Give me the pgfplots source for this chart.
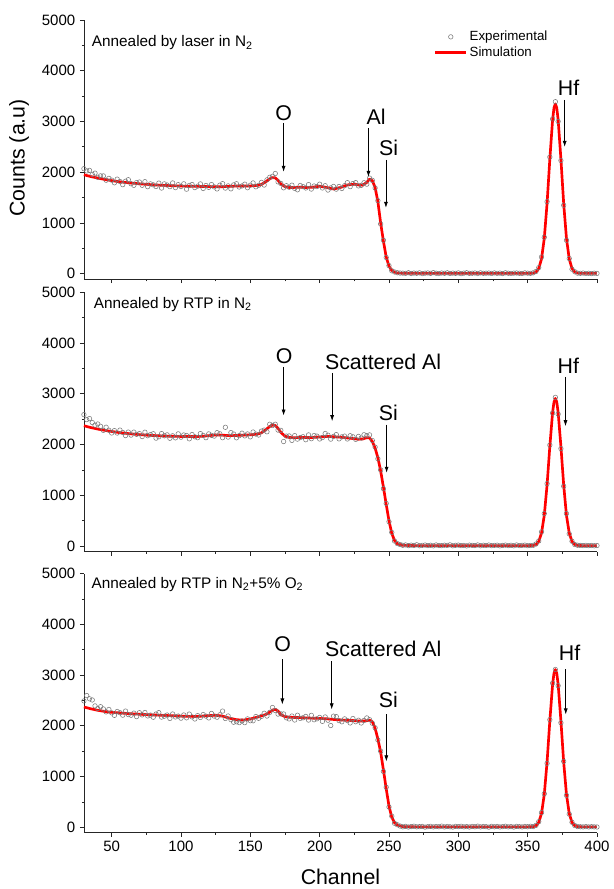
\documentclass[border=0pt]{standalone}
\usepackage{fontspec}
\setmainfont{Liberation Sans}
\usepackage{pgfplots}
\pgfplotsset{compat=1.18}
\usepackage{pgfplotstable}
\usetikzlibrary{arrows.meta}

\definecolor{expgray}{RGB}{120,120,120}

% experimental spectra, every 2nd channel
\pgfplotstableread{
ch e1 e2 e3
30 2070 2590 2490
32 2026 2491 2596
34 2037 2512 2532
36 1958 2434 2509
38 1982 2382 2392
40 1900 2405 2340
42 1929 2360 2376
44 1928 2280 2332
46 1843 2341 2274
48 1879 2282 2322
50 1845 2228 2255
52 1792 2275 2206
54 1864 2227 2282
56 1817 2285 2258
58 1755 2238 2209
60 1823 2177 2290
62 1853 2246 2221
64 1773 2186 2208
66 1742 2245 2249
68 1797 2201 2181
70 1807 2216 2258
72 1743 2157 2215
74 1814 2243 2262
76 1715 2174 2194
78 1771 2196 2211
80 1752 2213 2169
82 1719 2126 2232
84 1786 2153 2259
86 1689 2216 2171
88 1771 2173 2189
90 1748 2191 2212
92 1716 2124 2145
94 1789 2173 2232
96 1697 2132 2174
98 1755 2211 2192
100 1718 2145 2150
102 1772 2189 2213
104 1666 2178 2157
106 1739 2113 2231
108 1758 2198 2175
110 1697 2153 2134
112 1726 2135 2201
114 1770 2216 2164
116 1680 2180 2222
118 1739 2135 2191
120 1703 2210 2155
122 1757 2181 2243
124 1711 2167 2191
126 1671 2234 2169
128 1745 2212 2217
130 1775 2135 2290
132 1688 2340 2144
134 1731 2147 2193
136 1673 2236 2122
138 1751 2207 2070
140 1773 2133 2080
142 1709 2176 2062
144 1730 2224 2094
146 1765 2171 2062
148 1695 2209 2136
150 1745 2152 2100
152 1789 2247 2099
154 1713 2207 2183
156 1742 2188 2148
158 1800 2265 2185
160 1748 2285 2247
162 1850 2252 2192
164 1900 2400 2265
166 1920 2375 2360
168 1975 2400 2300
170 1810 2285 2230
172 1780 2280 2235
174 1693 2060 2233
176 1735 2167 2157
178 1705 2170 2135
180 1745 2082 2192
182 1681 2176 2114
184 1654 2107 2208
186 1739 2138 2146
188 1717 2154 2158
190 1690 2095 2185
192 1757 2190 2113
194 1669 2115 2206
196 1729 2177 2119
198 1717 2166 2137
200 1765 2110 2165
202 1690 2139 2087
204 1735 2218 2174
206 1649 2184 2110
208 1692 2107 2005
210 1720 2160 2190
212 1667 2196 2181
214 1719 2112 2102
216 1680 2152 2079
218 1735 2166 2136
220 1795 2110 2103
222 1716 2174 2056
224 1777 2153 2143
226 1795 2102 2080
228 1730 2160 2110
230 1742 2128 2055
232 1793 2193 2105
234 1765 2175 2155
236 1885 2190 2120
238 1840 2080 2050
240 1690 1950 1960
242 1440 1720 1720
244 980 1500 1500
246 660 1130 1100
248 320 840 790
250 160 480 400
252 60 270 220
254 35 100 80
256 20 50 50
258 14 30 25
260 12 15 10
262 8 22 18
264 20 9 6
266 5 18 14
268 14 12 21
270 9 25 9
272 18 7 13
274 3 14 17
276 11 20 4
278 16 10 12
280 7 16 19
282 22 5 8
284 10 21 15
286 4 11 11
288 15 8 23
290 9 17 7
292 19 13 16
294 6 24 10
296 13 6 5
298 8 15 18
300 17 19 13
302 2 9 20
304 12 12 9
306 20 4 14
308 7 18 6
310 10 14 17
312 15 10 11
314 5 22 22
316 18 7 8
318 9 16 15
320 11 11 12
322 14 20 3
324 6 8 19
326 16 13 10
328 8 17 16
330 13 5 7
332 4 12 13
334 19 19 21
336 10 9 9
338 7 15 14
340 12 6 5
342 15 21 18
344 9 10 12
346 5 14 8
348 17 18 16
350 11 8 11
352 8 11 20
354 18 15 14
356 45 40 38
358 120 100 110
360 330 280 290
362 720 640 660
364 1420 1230 1260
366 2300 1990 2120
368 3050 2620 2840
370 3390 2930 3110
372 3000 2600 2790
374 2230 1920 2060
376 1350 1180 1300
378 660 640 630
380 300 240 260
382 90 95 100
384 40 30 35
386 12 16 15
388 9 12 11
390 14 9 8
392 6 14 13
394 10 8 7
396 4 11 12
398 11 6 9
400 7 10 6
}\expdata

% simulated spectra
\pgfplotstableread{
ch s1 s2 s3
30 1950 2370 2370
35 1915 2335 2335
40 1885 2305 2305
45 1858 2280 2282
50 1835 2258 2265
55 1815 2238 2255
60 1798 2222 2245
65 1785 2208 2236
70 1772 2196 2228
75 1762 2186 2220
80 1752 2178 2214
85 1745 2172 2208
90 1738 2166 2202
95 1733 2162 2196
100 1728 2160 2190
105 1725 2158 2186
110 1722 2158 2184
115 1720 2162 2190
120 1718 2175 2200
125 1716 2190 2208
130 1715 2185 2190
135 1722 2175 2150
140 1728 2178 2120
145 1730 2185 2112
150 1730 2192 2135
155 1740 2205 2170
158 1760 2230 2195
161 1810 2290 2220
164 1870 2355 2270
166 1895 2385 2310
168 1890 2375 2325
170 1840 2320 2290
172 1770 2240 2220
175 1715 2165 2180
178 1700 2140 2170
181 1700 2135 2165
185 1705 2138 2162
190 1700 2140 2155
195 1705 2140 2150
200 1725 2150 2145
205 1700 2160 2138
210 1670 2155 2125
215 1700 2145 2115
220 1750 2130 2108
225 1765 2115 2102
228 1750 2105 2095
231 1745 2110 2095
234 1800 2135 2100
236 1865 2130 2110
238 1835 2060 2080
240 1700 1930 1950
242 1420 1740 1740
244 1000 1480 1480
246 640 1160 1130
248 330 820 760
250 150 500 420
252 65 250 200
254 30 110 90
256 15 45 45
260 10 15 15
270 8 8 8
350 8 8 8
354 12 12 12
356 34 31 32
358 102 89 95
360 292 255 272
362 696 605 647
364 1381 1200 1282
366 2259 1963 2097
368 3034 2635 2817
369 3268 2838 3034
370 3348 2908 3108
371 3268 2838 3034
372 3034 2635 2817
374 2259 1963 2097
376 1381 1200 1282
378 696 605 647
380 292 255 272
382 102 89 95
384 34 31 32
386 14 13 13
390 8 8 8
400 8 8 8
}\simdata

\pgfplotsset{
  rbs/.style={
    scale only axis, width=385.1pt, height=194.6pt,
    xmin=30, xmax=400, ymin=-108, ymax=5000,
    axis x line*=bottom, axis y line*=left,
    axis line style={-, line width=0.6pt, black!85},
    tick align=outside, major tick length=3pt, minor tick length=1.6pt,
    tick style={line width=0.6pt, black!85},
    xtick={50,100,...,400}, minor x tick num=1,
    ytick={0,1000,...,5000}, minor y tick num=1,
    scaled y ticks=false,
    ticklabel style={font=\fontsize{11.25}{13}\selectfont},
    /pgf/number format/assume math mode=true,
    /pgf/number format/1000 sep={},
    clip=false,
  },
  expplot/.style={only marks, mark=o, mark size=1.7pt,
    mark options={draw=expgray, line width=0.4pt}},
  simplot/.style={red, line width=2pt, line join=round, no markers},
  legend image code/.code={\draw[mark repeat=2,mark phase=2,#1]
    plot coordinates {(0cm,0cm) (0.41cm,0cm) (0.82cm,0cm)};},
}

% label, label x, label baseline, arrow x, arrow top, arrow tip
\newcommand{\ann}[6]{%
  \node[anchor=base, inner sep=0pt, font=\fontsize{16}{19}\selectfont] at (axis cs:#2,#3) {#1};
  \draw[line width=0.5pt, -{Latex[length=4.5pt,width=3pt]}] (axis cs:#4,#5) -- (axis cs:#4,#6);
}

\begin{document}
\begin{tikzpicture}

\begin{axis}[rbs, at={(63pt,-15pt)}, anchor=north west, xticklabels={},
    legend style={at={(axis cs:282.2,4827)}, anchor=north west, draw=none, fill=none,
      inner sep=0pt, font=\fontsize{10}{12}\selectfont, nodes={inner sep=1.5pt},
      cells={anchor=west}}]
  \addplot[expplot] table[x=ch, y=e1] {\expdata};
  \addlegendentry{Experimental}
  \addplot[simplot] table[x=ch, y=s1] {\simdata};
  \addlegendentry{Simulation}
  \node[anchor=west, inner sep=0pt, font=\fontsize{11.5}{13}\selectfont] at (axis cs:35.6,4553) {Annealed by laser in N\textsubscript{2}};
  \node[rotate=90, font=\fontsize{16}{19}\selectfont] at ([xshift=-48.75pt]axis cs:30,2283) {Counts (a.u)};
  \ann{O}{174}{3012}{174}{2972}{2008}
  \ann{Al}{240.8}{2933}{235.2}{2874}{1909}
  \ann{Si}{249.8}{2323}{247.8}{2244}{1299}
  \ann{Hf}{379.5}{3504}{376.7}{3425}{2500}
\end{axis}

\begin{axis}[rbs, at={(63pt,-219.4pt)}, anchor=north west, xticklabels={}]
  \addplot[expplot] table[x=ch, y=e2] {\expdata};
  \addplot[simplot] table[x=ch, y=s2] {\simdata};
  \node[anchor=west, inner sep=0pt, font=\fontsize{11.5}{13}\selectfont] at (axis cs:37,4758) {Annealed by RTP in N\textsubscript{2}};
  \ann{O}{174.4}{3596}{174}{3530}{2572}
  \ann{Scattered Al}{245.8}{3478}{209}{3412}{2461}
  \ann{Si}{249.5}{2474}{248.3}{2395}{1444}
  \ann{Hf}{379.3}{3392}{377.3}{3333}{2362}
\end{axis}

\begin{axis}[rbs, at={(63pt,-430.5pt)}, anchor=north west,
    xlabel={Channel},
    xlabel style={at={(axis description cs:0.5,0)}, anchor=center, yshift=-33pt,
      font=\fontsize{16}{19}\selectfont}]
  \addplot[expplot] table[x=ch, y=e3] {\expdata};
  \addplot[simplot] table[x=ch, y=s3] {\simdata};
  \node[anchor=west, inner sep=0pt, font=\fontsize{11.5}{13}\selectfont] at (axis cs:35.3,4789) {Annealed by RTP in N\textsubscript{2}+5\% O\textsubscript{2}};
  \ann{O}{173.4}{3473}{173.1}{3307}{2421}
  \ann{Scattered Al}{245.9}{3362}{208.7}{3268}{2323}
  \ann{Si}{249.5}{2359}{248.1}{2224}{1299}
  \ann{Hf}{380.3}{3277}{377.5}{3110}{2224}
\end{axis}

\path (0pt,0pt) rectangle (456.75pt,-666.75pt);
\end{tikzpicture}
\end{document}
